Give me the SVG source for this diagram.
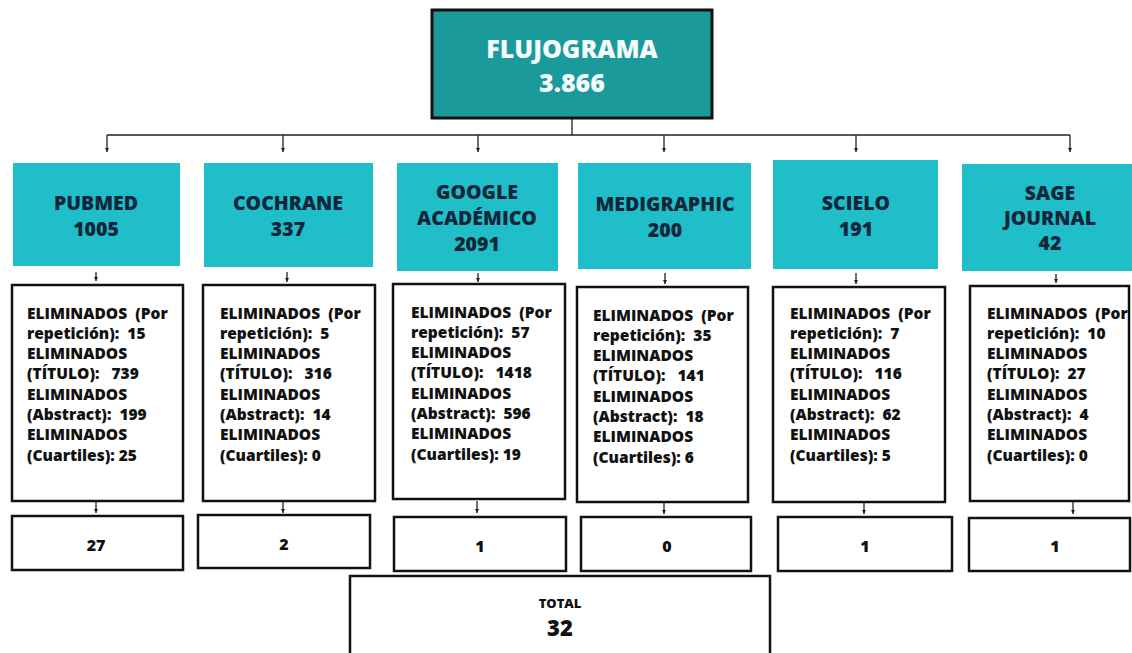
<svg xmlns="http://www.w3.org/2000/svg" width="1132" height="653" viewBox="0 0 1132 653">
<defs>
<marker id="ah" viewBox="0 0 6 6" refX="6" refY="3" markerWidth="4" markerHeight="4" orient="auto" markerUnits="userSpaceOnUse">
<path d="M0,0 L6,3 L0,6 Z" fill="#222"/>
</marker>
<style>
.top{fill:#1a9a9b;stroke:#111;stroke-width:3}
.db{fill:#20bec8;stroke:none}
.box{fill:#fff;stroke:#111;stroke-width:2.5}
.tt{font-family:"Open Sans","DejaVu Sans",sans-serif;font-weight:800;font-size:25px;fill:#f4fbfb;text-anchor:middle}
.dt{font-family:"Open Sans","DejaVu Sans",sans-serif;font-weight:800;font-size:19.5px;fill:#10263a;text-anchor:middle}
.et{font-family:"Open Sans","DejaVu Sans",sans-serif;font-weight:800;font-size:15.5px;fill:#111;white-space:pre}
.rt{font-family:"Open Sans","DejaVu Sans",sans-serif;font-weight:800;font-size:16px;fill:#111;text-anchor:middle}
.ln{stroke:#222;stroke-width:1.3;fill:none}
.ar{stroke:#222;stroke-width:1.3;fill:none;marker-end:url(#ah)}
</style>
</defs>
<rect width="1132" height="653" fill="#fff"/>

<g id="connectors">
<path class="ln" d="M572,118 V135 M107,135 H1070"/>
<path class="ar" d="M107,135 V152"/>
<path class="ar" d="M283,135 V152"/>
<path class="ar" d="M478,135 V152"/>
<path class="ar" d="M664,135 V152"/>
<path class="ar" d="M856,135 V152"/>
<path class="ar" d="M1070,135 V152"/>
<path class="ar" d="M96,272 V281"/>
<path class="ar" d="M287,272 V282"/>
<path class="ar" d="M478,273 V282"/>
<path class="ar" d="M665,273 V284"/>
<path class="ar" d="M856,273 V284"/>
<path class="ar" d="M1056,274 V283"/>
<path class="ar" d="M96,502 V513"/>
<path class="ar" d="M283,502 V513"/>
<path class="ar" d="M477,501 V513"/>
<path class="ar" d="M664,503 V514"/>
<path class="ar" d="M864,503 V514"/>
<path class="ar" d="M1073,502 V514"/>
</g>

<g id="flujograma">
<rect class="top" x="432" y="10" width="280" height="108"/>
<text class="tt" x="572" y="58">FLUJOGRAMA</text>
<text class="tt" x="572" y="92">3.866</text>
</g>

<g id="pubmed">
<rect class="db" x="13" y="163" width="167" height="103"/>
<text class="dt" x="96" y="210">PUBMED</text>
<text class="dt" x="96" y="236">1005</text>
</g>
<g id="cochrane">
<rect class="db" x="204" y="163" width="169" height="104"/>
<text class="dt" x="288" y="210">COCHRANE</text>
<text class="dt" x="288" y="236">337</text>
</g>
<g id="google">
<rect class="db" x="397" y="163" width="161" height="108"/>
<text class="dt" x="477" y="199">GOOGLE</text>
<text class="dt" x="477" y="225">ACADÉMICO</text>
<text class="dt" x="477" y="251">2091</text>
</g>
<g id="medigraphic">
<rect class="db" x="578" y="163" width="173" height="106"/>
<text class="dt" x="665" y="211">MEDIGRAPHIC</text>
<text class="dt" x="665" y="237">200</text>
</g>
<g id="scielo">
<rect class="db" x="773" y="160" width="165" height="109"/>
<text class="dt" x="856" y="210">SCIELO</text>
<text class="dt" x="856" y="236">191</text>
</g>
<g id="sage">
<rect class="db" x="962" y="164" width="170" height="107"/>
<text class="dt" x="1050" y="200">SAGE</text>
<text class="dt" x="1050" y="225">JOURNAL</text>
<text class="dt" x="1050" y="250">42</text>
</g>

<g id="elim-pubmed">
<rect class="box" x="12" y="285" width="171" height="216"/>
<text class="et" x="27" y="318.5">ELIMINADOS  (Por<tspan x="27" dy="20.3">repetición):  15</tspan><tspan x="27" dy="20.3">ELIMINADOS</tspan><tspan x="27" dy="20.3">(TÍTULO):   739</tspan><tspan x="27" dy="20.3">ELIMINADOS</tspan><tspan x="27" dy="20.3">(Abstract):  199</tspan><tspan x="27" dy="20.3">ELIMINADOS</tspan><tspan x="27" dy="20.3">(Cuartiles): 25</tspan></text>
</g>
<g id="elim-cochrane">
<rect class="box" x="203" y="285" width="172" height="216"/>
<text class="et" x="220" y="318.5">ELIMINADOS  (Por<tspan x="220" dy="20.3">repetición):  5</tspan><tspan x="220" dy="20.3">ELIMINADOS</tspan><tspan x="220" dy="20.3">(TÍTULO):   316</tspan><tspan x="220" dy="20.3">ELIMINADOS</tspan><tspan x="220" dy="20.3">(Abstract):  14</tspan><tspan x="220" dy="20.3">ELIMINADOS</tspan><tspan x="220" dy="20.3">(Cuartiles): 0</tspan></text>
</g>
<g id="elim-google">
<rect class="box" x="393" y="284" width="172" height="215"/>
<text class="et" x="411" y="317.5">ELIMINADOS  (Por<tspan x="411" dy="20.3">repetición):  57</tspan><tspan x="411" dy="20.3">ELIMINADOS</tspan><tspan x="411" dy="20.3">(TÍTULO):   1418</tspan><tspan x="411" dy="20.3">ELIMINADOS</tspan><tspan x="411" dy="20.3">(Abstract):  596</tspan><tspan x="411" dy="20.3">ELIMINADOS</tspan><tspan x="411" dy="20.3">(Cuartiles): 19</tspan></text>
</g>
<g id="elim-medigraphic">
<rect class="box" x="577" y="287" width="171" height="215"/>
<text class="et" x="593" y="320.5">ELIMINADOS  (Por<tspan x="593" dy="20.3">repetición):  35</tspan><tspan x="593" dy="20.3">ELIMINADOS</tspan><tspan x="593" dy="20.3">(TÍTULO):   141</tspan><tspan x="593" dy="20.3">ELIMINADOS</tspan><tspan x="593" dy="20.3">(Abstract):  18</tspan><tspan x="593" dy="20.3">ELIMINADOS</tspan><tspan x="593" dy="20.3">(Cuartiles): 6</tspan></text>
</g>
<g id="elim-scielo">
<rect class="box" x="773" y="287" width="172" height="215"/>
<text class="et" x="790" y="318.5">ELIMINADOS  (Por<tspan x="790" dy="20.3">repetición):  7</tspan><tspan x="790" dy="20.3">ELIMINADOS</tspan><tspan x="790" dy="20.3">(TÍTULO):   116</tspan><tspan x="790" dy="20.3">ELIMINADOS</tspan><tspan x="790" dy="20.3">(Abstract):  62</tspan><tspan x="790" dy="20.3">ELIMINADOS</tspan><tspan x="790" dy="20.3">(Cuartiles): 5</tspan></text>
</g>
<g id="elim-sage">
<rect class="box" x="970" y="286" width="159" height="215"/>
<text class="et" x="987" y="318.5">ELIMINADOS  (Por<tspan x="987" dy="20.3">repetición):  10</tspan><tspan x="987" dy="20.3">ELIMINADOS</tspan><tspan x="987" dy="20.3">(TÍTULO):  27</tspan><tspan x="987" dy="20.3">ELIMINADOS</tspan><tspan x="987" dy="20.3">(Abstract):  4</tspan><tspan x="987" dy="20.3">ELIMINADOS</tspan><tspan x="987" dy="20.3">(Cuartiles): 0</tspan></text>
</g>

<g id="res-pubmed"><rect class="box" x="12" y="516" width="171" height="54"/><text class="rt" x="96" y="551">27</text></g>
<g id="res-cochrane"><rect class="box" x="198" y="515" width="172" height="53"/><text class="rt" x="284" y="550">2</text></g>
<g id="res-google"><rect class="box" x="394" y="517" width="172" height="54"/><text class="rt" x="480" y="552">1</text></g>
<g id="res-medigraphic"><rect class="box" x="581" y="517" width="170" height="54"/><text class="rt" x="667" y="552">0</text></g>
<g id="res-scielo"><rect class="box" x="778" y="517" width="174" height="54"/><text class="rt" x="865" y="552">1</text></g>
<g id="res-sage"><rect class="box" x="969" y="518" width="161" height="53"/><text class="rt" x="1055" y="552">1</text></g>

<g id="total">
<rect class="box" x="350" y="576" width="420" height="90"/>
<text class="rt" x="560" y="608" style="font-size:13px">TOTAL</text>
<text class="rt" x="560" y="636" style="font-size:22px">32</text>
</g>
</svg>
